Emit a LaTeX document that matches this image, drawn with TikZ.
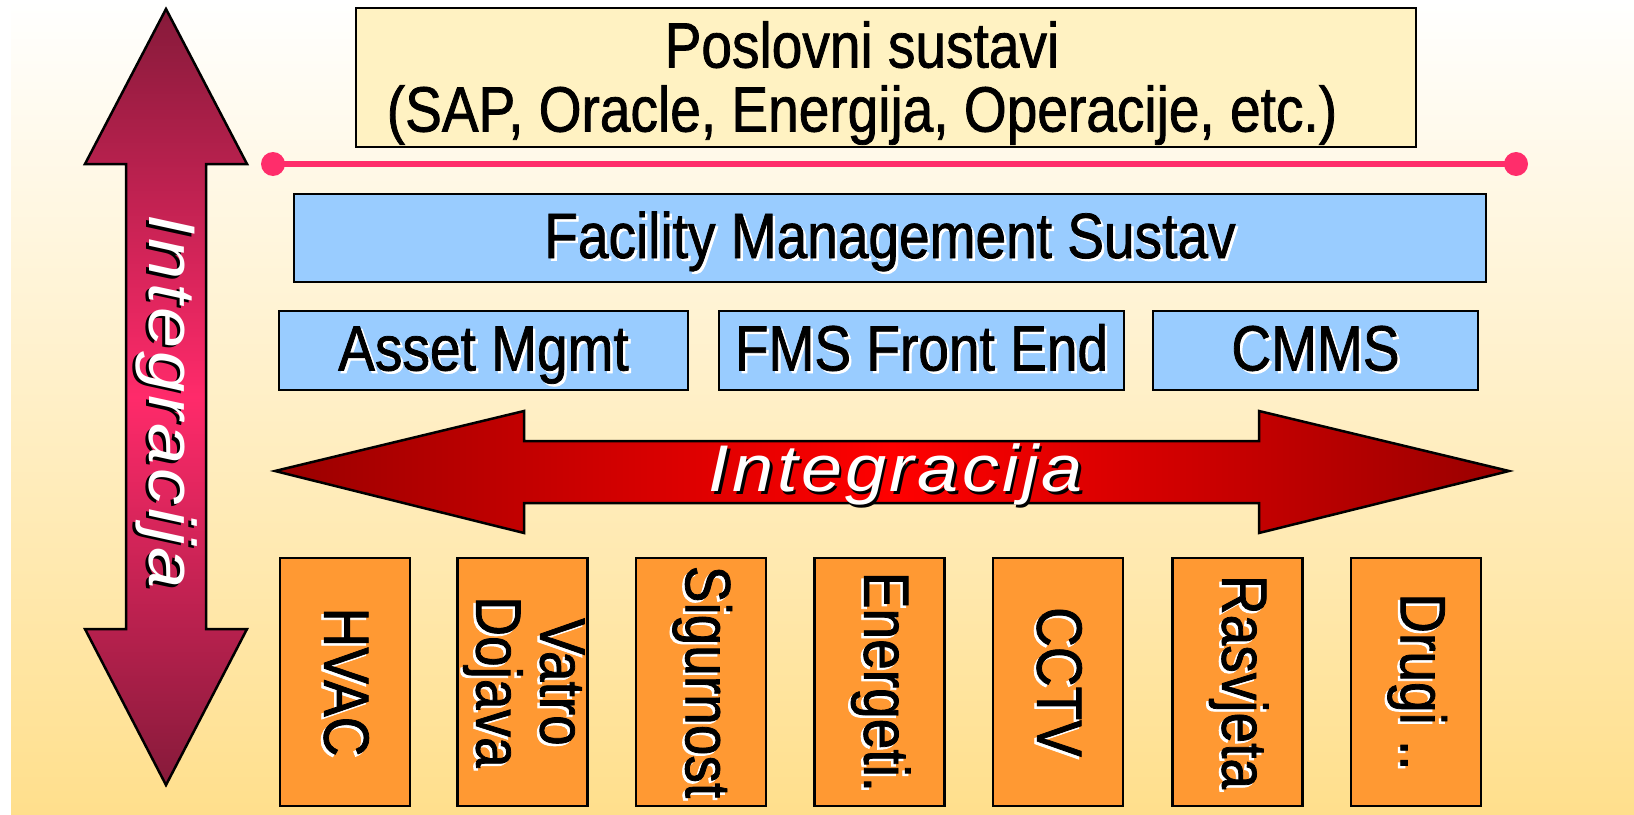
\documentclass[tikz,border=0pt]{standalone}
\usepackage{fontspec}
\setmainfont{Liberation Sans}[FakeStretch=0.86,FakeBold=1.2]
\newfontfamily\arrowfont{Liberation Sans}[FakeStretch=1.12,LetterSpace=5]
\usepackage{tikz}
\usepackage{xcolor}
\usetikzlibrary{positioning}
\definecolor{bgbot}   {HTML}{FFDF8C}
\definecolor{sysfill} {HTML}{FFF2C2}
\definecolor{fmfill}  {HTML}{99CCFF}
\definecolor{devfill} {HTML}{FF9933}
\definecolor{sepcol}  {HTML}{FF2D6B}
\definecolor{hdark}   {HTML}{990000}
\definecolor{hbright} {HTML}{FF0000}
\definecolor{vdark}   {HTML}{861A3A}
\definecolor{vbright} {HTML}{FF2A6A}
\newcommand{\bigtxt}{\fontsize{64bp}{64bp}\selectfont}
\newcommand{\lbltxt}{\arrowfont\itshape\fontsize{66bp}{66bp}\selectfont}
% text with a small offset shadow: shadow colour, text colour, text
\newcommand{\shadowed}[3]{\rlap{\kern2.5bp\raisebox{-2.5bp}{\color{#1}#3}}{\color{#2}#3}}
\tikzset{
  box/.style      ={draw=black, line width=2.5bp, inner sep=0pt,
                    align=center, font=\bigtxt},
  sysbox/.style   ={box, fill=sysfill},
  fmbox/.style    ={box, fill=fmfill, text height=46bp, text depth=6bp},
  modbox/.style   ={fmbox, minimum height=79bp},
  devbox/.style   ={box, fill=devfill, rotate=-90,
                    minimum width=248bp, minimum height=130bp},
  sepline/.style  ={draw=sepcol, line width=6.5bp},
  harrow/.style   ={draw=black, line width=2.5bp, line join=miter,
                    left color=hdark, right color=hdark, middle color=hbright},
  varrow/.style   ={draw=black, line width=2.5bp, line join=miter,
                    top color=vdark, bottom color=vdark, middle color=vbright},
  arrowlbl/.style ={inner sep=0pt, font=\lbltxt},
}
\begin{document}
\begin{tikzpicture}[x=1bp,y=-1bp]
  \useasboundingbox (0,0) rectangle (1634,815);
  \fill[white] (0,0) rectangle (1634,815);
  \shade[top color=white, bottom color=bgbot] (11,0) rectangle (1634,815);

  % business systems on top
  \node[sysbox,minimum width=1060bp,minimum height=139bp] (poslovni) at (886,77.5) {};
  \node[font=\bigtxt,align=center,inner sep=0pt] (poslovnitxt) at (862,83)
    {Poslovni sustavi\\(SAP, Oracle, Energija, Operacije, etc.)};

  % separator line
  \coordinate (sepl) at (273,164);
  \coordinate (sepr) at (1516,164);
  \draw[sepline] (sepl) -- (sepr);
  \fill[sepcol] (sepl) circle[radius=12bp] (sepr) circle[radius=12bp];

  % facility management layer
  \node[fmbox,minimum width=1192bp,minimum height=88bp] (fms) at (890,238)
    {\shadowed{white}{black}{Facility Management Sustav}};
  \node[modbox,minimum width=409bp] (asset) at (483.5,350.5)
    {\shadowed{white}{black}{Asset Mgmt}};
  \node[modbox,minimum width=405bp] (front) at (921.5,350.5)
    {\shadowed{white}{black}{FMS Front End}};
  \node[modbox,minimum width=325bp] (cmms) at (1315.5,350.5)
    {\shadowed{white}{black}{CMMS}};

  % horizontal integration arrow
  \draw[harrow] (275,471) -- (524,411) -- (524,441) -- (1259,441) -- (1259,411)
    -- (1509,471) -- (1259,533) -- (1259,503) -- (524,503) -- (524,533) -- cycle;
  \node[arrowlbl] (hint) at (896,476) {\shadowed{black}{white}{Integracija}};

  % vertical integration arrow
  \draw[varrow] (166,9) -- (247,164) -- (206,164) -- (206,629) -- (247,629)
    -- (166,785) -- (85,629) -- (126,629) -- (126,164) -- (85,164) -- cycle;
  \node[arrowlbl,rotate=-90] (vint) at (165,402) {\shadowed{black}{white}{Integracija}};

  % field systems
  \node[devbox] (hvac)      at (345,682)    {\shadowed{white}{black}{HVAC}};
  \node[devbox] (vatro)     at (522.5,682)  {\shadowed{white}{black}{Vatro}\\\shadowed{white}{black}{Dojava}};
  \node[devbox] (sigurnost) at (701,682)    {\shadowed{white}{black}{Sigurnost}};
  \node[devbox] (energeti)  at (879.5,682)  {\shadowed{white}{black}{Energeti.}};
  \node[devbox] (cctv)      at (1058,682)   {\shadowed{white}{black}{CCTV}};
  \node[devbox] (rasvjeta)  at (1237.5,682) {\shadowed{white}{black}{Rasvjeta}};
  \node[devbox] (drugi)     at (1416,682)   {\shadowed{white}{black}{Drugi ..}};
\end{tikzpicture}
\end{document}
